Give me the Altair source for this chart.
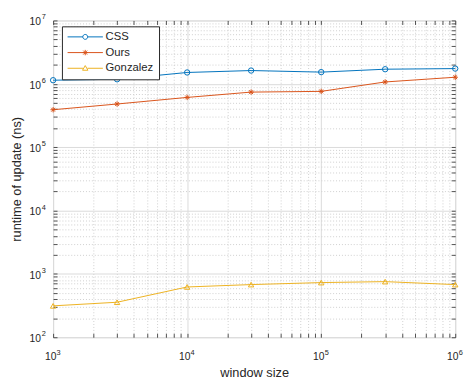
import altair as alt
import pandas as pd

window_size = [1e3, 3e3, 1e4, 3e4, 1e5, 3e5, 1e6]
css = [1.14e6, 1.18e6, 1.51e6, 1.62e6, 1.53e6, 1.70e6, 1.74e6]
ours = [3.9e5, 4.8e5, 6.1e5, 7.4e5, 7.6e5, 1.07e6, 1.27e6]
gonzalez = [313, 357, 622, 678, 729, 755, 678]
series_names = ["CSS", "Ours", "Gonzalez"]
series_colors = ["#0072BD", "#D95319", "#EDB120"]

x_ticks = [m * 10 ** e for e in range(3, 6) for m in range(1, 10)] + [1e6]
y_ticks = [m * 10 ** e for e in range(2, 7) for m in range(1, 10)] + [1e7]

rows = []
for name, vals in zip(series_names, [css, ours, gonzalez]):
    for xv, yv in zip(window_size, vals):
        rows.append({"window": xv, "runtime": yv, "series": name})
df = pd.DataFrame(rows)

MAJOR = "abs(log(datum.value)/LN10 - round(log(datum.value)/LN10)) < 1e-6"
base_expr = f"({MAJOR}) ? '10' : ''"
exp_expr = f"({MAJOR}) ? toString(round(log(datum.value)/LN10)) : ''"

TXT = "#262626"
FONT = "Liberation Sans"
W, H = 410, 323

grid_color = {"condition": {"test": MAJOR, "value": "#dadada"}, "value": "#cfcfcf"}
grid_dash = {"condition": {"test": MAJOR, "value": []}, "value": [1, 2]}


def main_axis(title, ticks, label_pad, title_pad, shift=0):
    return alt.Axis(
        values=ticks, title=title, labelExpr=base_expr, labelOverlap=False,
        labelFlush=False, grid=True, gridColor=grid_color, gridDash=grid_dash,
        gridWidth=1, domain=False, ticks=True, tickSize=4, offset=-4,
        tickColor=TXT, tickWidth=0.8, labelPadding=label_pad, labelColor=TXT,
        labelFont=FONT, labelFontSize=10.5, labelOffset=shift,
        titleFont=FONT, titleFontSize=13, titleFontWeight="normal",
        titleColor=TXT, titlePadding=title_pad,
    )


def mirror_axis(orient, ticks, pad, shift, align, baseline):
    return alt.Axis(
        orient=orient, values=ticks, labelExpr=exp_expr, labelOverlap=False,
        labelFlush=False, labelPadding=pad, labelOffset=shift,
        labelAlign=align, labelBaseline=baseline, labelFont=FONT,
        labelFontSize=7.5, labelColor=TXT, title=None, grid=False,
        domain=False, ticks=True, tickSize=4, offset=-4, tickColor=TXT,
        tickWidth=0.8,
    )


x_scale = alt.Scale(type="log", domain=[1e3, 1e6], nice=False)
y_scale = alt.Scale(type="log", domain=[1e2, 1e7], nice=False)

marker_shapes = [
    "circle",
    "M0,-1L0,1M-1,0L1,0M-0.7,-0.7L0.7,0.7M-0.7,0.7L0.7,-0.7",
    "triangle-up",
]
legend_shapes = [
    "M-3.6,0L-0.5,0M0.5,0L3.6,0M-0.5,0A0.5,0.5,0,1,0,0.5,0A0.5,0.5,0,1,0,-0.5,0",
    "M-3.6,0L3.6,0M0,-0.55L0,0.55M-0.55,0L0.55,0M-0.4,-0.4L0.4,0.4M-0.4,0.4L0.4,-0.4",
    "M-3.6,0L-0.45,0M0.45,0L3.6,0M0,-0.55L0.55,0.4L-0.55,0.4Z",
]

color_scale = alt.Scale(domain=series_names, range=series_colors)

lines = alt.Chart(df).mark_line(strokeWidth=1).encode(
    x=alt.X("window:Q", scale=x_scale,
            axis=main_axis("window size", x_ticks, 15, 5, shift=-3)),
    y=alt.Y("runtime:Q", scale=y_scale,
            axis=main_axis("runtime of update (ns)", y_ticks, 13, 6, shift=1.5)),
    color=alt.Color("series:N", scale=color_scale, legend=None),
)

points = alt.Chart(df).mark_point(filled=False, strokeWidth=1, size=30, opacity=1).encode(
    x=alt.X("window:Q", scale=x_scale,
            axis=mirror_axis("top", x_ticks, -(H + 12), 3, "left", "top")),
    y=alt.Y("runtime:Q", scale=y_scale,
            axis=mirror_axis("right", y_ticks, -(W + 12), -3.5, "left", "middle")),
    color=alt.Color("series:N", scale=color_scale, legend=None),
    shape=alt.Shape("series:N", scale=alt.Scale(domain=series_names, range=marker_shapes),
                    legend=None),
)

legend_layer = alt.Chart(df).mark_point(filled=False, strokeWidth=1, opacity=0).encode(
    x=alt.X("window:Q", scale=x_scale, axis=None),
    y=alt.Y("runtime:Q", scale=y_scale, axis=None),
    color=alt.Color("series:N", scale=color_scale, legend=alt.Legend(
        title=None, orient="none", legendX=9, legendY=6, padding=5,
        fillColor="white", strokeColor=TXT, symbolSize=100, symbolOffset=13,
        labelOffset=15, symbolOpacity=1, symbolStrokeWidth=1, rowPadding=3,
        labelFont=FONT, labelFontSize=11.5, labelColor=TXT,
    )),
    shape=alt.Shape("series:N", scale=alt.Scale(domain=series_names, range=legend_shapes),
                    legend=alt.Legend(title=None, orient="none", legendX=9, legendY=6)),
)

chart = alt.layer(lines, points, legend_layer).resolve_scale(
    color="independent", shape="independent"
).resolve_axis(
    x="independent", y="independent"
).properties(
    width=W, height=H, padding={"left": 2, "top": 1, "right": 2, "bottom": 2}
).configure_view(
    stroke=TXT, strokeWidth=1
).configure(background="white")

chart.save("out.html", embed_options={"renderer": "svg", "actions": False})
